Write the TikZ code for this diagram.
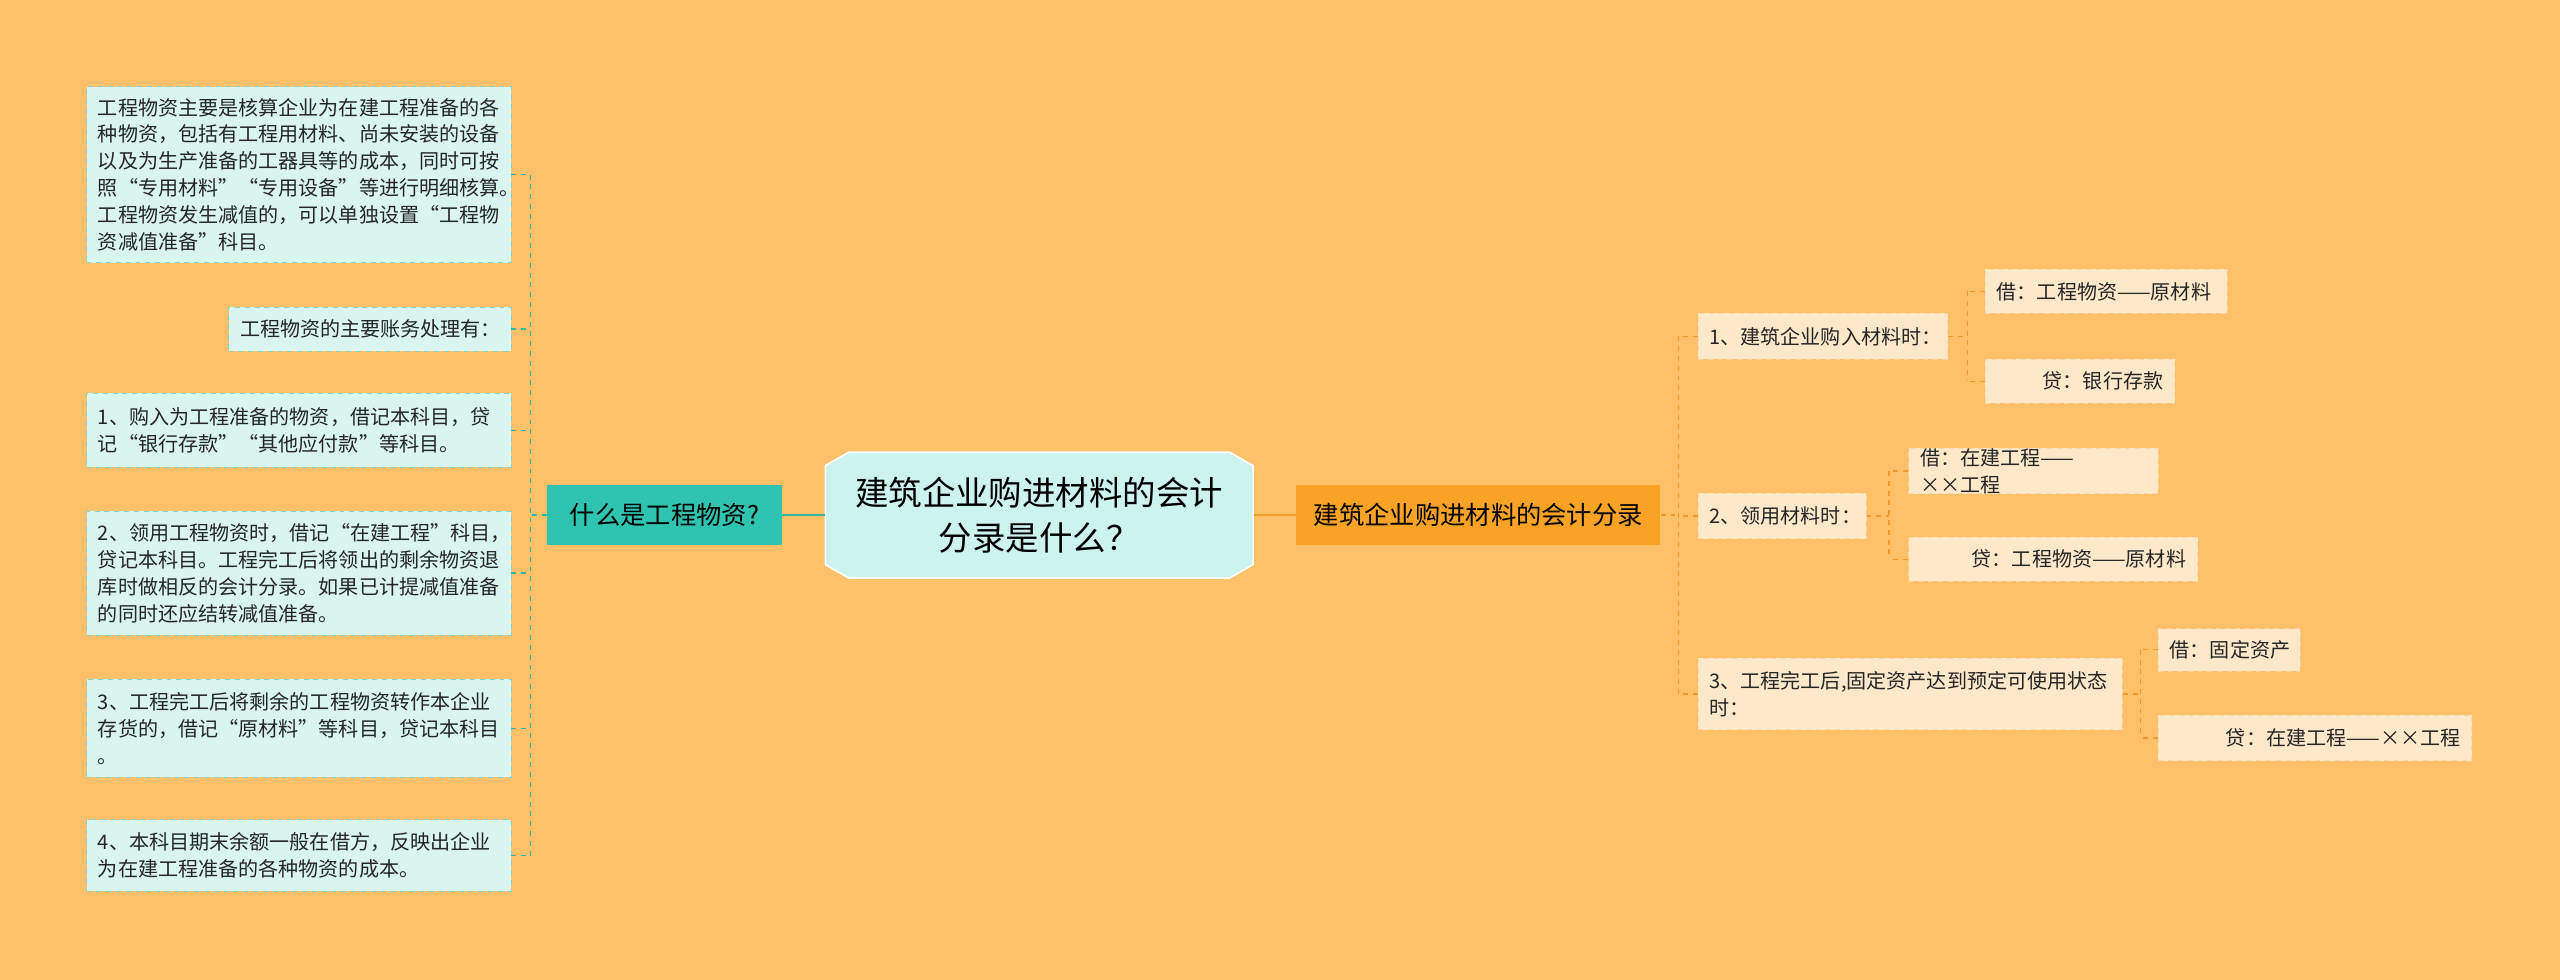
\documentclass[tikz,border=0pt]{standalone}
\usepackage{fontspec}
\setmainfont{Noto Sans CJK SC}
\usetikzlibrary{shapes.misc}
\definecolor{bg}{HTML}{FFC06A}
\definecolor{lleaf}{HTML}{D8F5F0}
\definecolor{teal}{HTML}{2FC4B2}
\definecolor{orng}{HTML}{F9A326}
\definecolor{rleaf}{HTML}{FDE8C9}
\definecolor{ctr}{HTML}{CDF3EF}
\definecolor{tline}{HTML}{2FB8A6}
\definecolor{oline}{HTML}{F39A2A}
\tikzset{
 x=1pt,y=-1pt,
 lbox/.style={fill=lleaf,draw=tline!60,dashed,line width=0.5pt,inner sep=0pt,align=left,text=black!85,font=\fontsize{12.3}{16.5}\selectfont},
 rbox/.style={fill=rleaf,draw=oline!40,dashed,line width=0.5pt,inner sep=0pt,text=black!85,font=\fontsize{12.3}{16.5}\selectfont},
 tcon/.style={draw=tline,dashed,line width=0.8pt},
 ocon/.style={draw=oline,dashed,line width=0.8pt},
}
\newcommand{\lb}[6]{\node[lbox,minimum width={#3-#1},minimum height={#4-#2},text width={#3-#1-14}] (#5) at ({(#1+#3)/2},{(#2+#4)/2}) {#6};}
\newcommand{\rb}[7]{\node[rbox,minimum width={#3-#1},minimum height={#4-#2},text width={#3-#1-14},align=#6] (#5) at ({(#1+#3)/2},{(#2+#4)/2}) {#7};}
\begin{document}
\begin{tikzpicture}
\fill[bg] (0,0) rectangle (1568,600);
\useasboundingbox (0,0) rectangle (1568,600);
% center
\node[draw=white,line width=1pt,fill=ctr,chamfered rectangle,chamfered rectangle xsep=8pt,chamfered rectangle angle=60,minimum width=262,minimum height=77,align=center,font=\fontsize{20.5}{28}\selectfont] (c) at (636.5,315.5) {建筑企业购进材料的会计\\分录是什么？};
\node[fill=teal,minimum width=144,minimum height=37,inner sep=0pt,font=\fontsize{15.5}{18}\selectfont] (L) at (407,315.5) {什么是工程物资?};
\node[fill=orng,minimum width=223,minimum height=37,inner sep=0pt,font=\fontsize{15.5}{18}\selectfont] (R) at (905.5,315.5) {建筑企业购进材料的会计分录};
\draw[tline,line width=1pt] (L.east) -- (c.west);
\draw[oline,line width=1pt] (c.east) -- (R.east -| R.west);
% left leaves
\lb{53}{53}{313}{161}{l1}{工程物资主要是核算企业为在建工程准备的各\\种物资，包括有工程用材料、尚未安装的设备\\以及为生产准备的工器具等的成本，同时可按\\照“专用材料”“专用设备”等进行明细核算。\\工程物资发生减值的，可以单独设置“工程物\\资减值准备”科目。}
\lb{140}{188}{313}{215}{l2}{工程物资的主要账务处理有：}
\lb{53}{241}{313}{286}{l3}{1、购入为工程准备的物资，借记本科目，贷\\记“银行存款”“其他应付款”等科目。}
\lb{53}{313}{313}{389}{l4}{2、领用工程物资时，借记“在建工程”科目，\\贷记本科目。工程完工后将领出的剩余物资退\\库时做相反的会计分录。如果已计提减值准备\\的同时还应结转减值准备。}
\lb{53}{416}{313}{476}{l5}{3、工程完工后将剩余的工程物资转作本企业\\存货的，借记“原材料”等科目，贷记本科目\\。}
\lb{53}{502}{313}{546}{l6}{4、本科目期末余额一般在借方，反映出企业\\为在建工程准备的各种物资的成本。}
\coordinate (lt) at (325,107);
\coordinate (lbt) at (325,524);
\draw[tcon] (lt) -- (lbt);
\draw[tcon] (L.west) -- (L.west -| lt);
\foreach \n in {l1,l2,l3,l4,l5,l6} \draw[tcon] (\n.east) -- (\n.east -| lt);
% right
\rb{1040}{192}{1193}{220}{r1}{left}{1、建筑企业购入材料时：}
\rb{1040}{302}{1143}{330}{r2}{left}{2、领用材料时：}
\rb{1040}{403}{1300}{447}{r3}{left}{3、工程完工后,固定资产达到预定可使用状态\\时：}
\rb{1216}{165}{1364}{192}{a1}{left}{借：工程物资——原材料}
\rb{1216}{220}{1332}{247}{a2}{right}{贷：银行存款}
\rb{1169}{275}{1322}{302}{b1}{left}{借：在建工程——××工程}
\rb{1169}{329}{1346}{356}{b2}{right}{贷：工程物资——原材料}
\rb{1322}{385}{1409}{411}{d1}{left}{借：固定资产}
\rb{1322}{438}{1514}{466}{d2}{right}{贷：在建工程——××工程}
\coordinate (rt) at (1028,206);
\draw[ocon] (rt) -- (1028,425);
\draw[ocon] (R.east) -- (R.east -| rt);
\foreach \n in {r1,r2,r3} \draw[ocon] (\n.west) -- (\n.west -| rt);
\foreach \p/\a/\b/\x in {r1/a1/a2/1205, r2/b1/b2/1157, r3/d1/d2/1311}{
 \draw[ocon] (\p.east) -- (\x,0 |- \p.east);
 \draw[ocon] (\x,0 |- \a.west) -- (\x,0 |- \b.west);
 \draw[ocon] (\a.west) -- (\x,0 |- \a.west);
 \draw[ocon] (\b.west) -- (\x,0 |- \b.west);
}
\end{tikzpicture}
\end{document}
